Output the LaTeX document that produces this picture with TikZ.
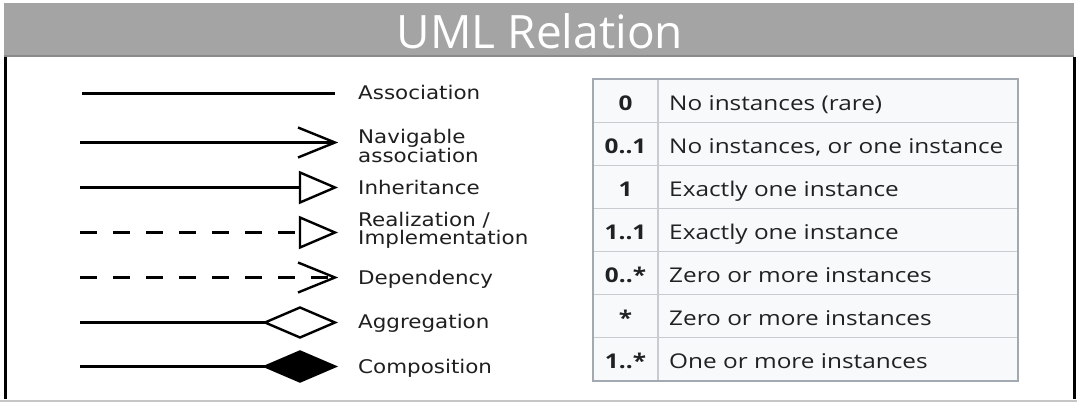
\documentclass[tikz,border=0pt]{standalone}
\usepackage{fontspec}
\setmainfont{DejaVu Sans}
\newfontfamily\lblfont[FakeStretch=1.14]{DejaVu Sans}
\newfontfamily\tblfont[FakeStretch=1.2]{Open Sans}
\newfontfamily\ttlfont{Open Sans}
\definecolor{hdrgray}{HTML}{A4A4A4}
\definecolor{hdrdark}{HTML}{8A8A8A}
\definecolor{tblbg}{HTML}{F8F9FA}
\definecolor{tblline}{HTML}{C8CCD1}
\definecolor{tblborder}{HTML}{A2A9B1}
\definecolor{txt}{HTML}{202122}
\definecolor{botline}{HTML}{C6C6C6}
\begin{document}
\begin{tikzpicture}[x=1pt,y=-1pt,
  rel/.style={line width=2.4pt, black},
  reldash/.style={rel, dash pattern=on 17pt off 16pt},
  headfill/.style={fill=white, draw=black, line width=2.4pt},
  lbl/.style={font=\lblfont\fontsize{18.8}{17.5}\selectfont, text=black!88, anchor=base west, inner sep=0pt},
  num/.style={font=\tblfont\bfseries\fontsize{20.3}{24}\selectfont, text=txt, anchor=base, inner sep=0pt},
  desc/.style={font=\tblfont\fontsize{20.3}{24}\selectfont, text=txt, anchor=base west, inner sep=0pt},
  ttl/.style={font=\ttlfont\fontsize{46}{50}\selectfont, text=white, anchor=base, inner sep=0pt}
]
\useasboundingbox (0,0) rectangle (1077,402);
\fill[white] (0,0) rectangle (1077,402);
% header
\fill[hdrgray] (4,3) rectangle (1074,57);
\draw[hdrdark, line width=2.5pt] (4,56) -- (1074,56);
\node[ttl] (title) at (540,48) {UML Relation};
% frame
\draw[line width=3pt] (5,57) -- (5,399);
\draw[line width=3pt] (1074.5,57) -- (1074.5,399);
\draw[botline, line width=2pt] (0,400.5) -- (1077,400.5);

% Association
\coordinate (a1) at (82,93.5); \coordinate (a2) at (335,93.5);
\draw[rel] (a1) -- (a2);
\node[lbl] (lAssoc) at (358,99.5) {Association};
% Navigable association
\coordinate (n1) at (80,142.5); \coordinate (n2) at (335,142.5);
\draw[rel] (n1) -- (n2);
\draw[rel] (n2) ++(-37,-15) -- (n2) -- ++(-37,15);
\node[lbl] (lNav) at (358,143) {\vtop{\hbox{Navigable}\hbox{association}}};
% Inheritance
\coordinate (i1) at (80,187.5); \coordinate (i2) at (300,187.5);
\draw[rel] (i1) -- (i2);
\draw[headfill] (i2) -- ++(0,-15) -- ++(35,15) -- ++(-35,15) -- cycle;
\node[lbl] (lInh) at (358,194) {Inheritance};
% Realization
\coordinate (r1) at (80,232.5); \coordinate (r2) at (300,232.5);
\draw[reldash] (r1) -- (r2);
\draw[headfill] (r2) -- ++(0,-15) -- ++(35,15) -- ++(-35,15) -- cycle;
\node[lbl] (lReal) at (358,226.5) {\vtop{\hbox{Realization /}\hbox{Implementation}}};
% Dependency
\coordinate (d1) at (80,277.5); \coordinate (d2) at (335,277.5);
\draw[reldash] (d1) -- (d2);
\draw[rel] (d2) ++(-37,-15) -- (d2) -- ++(-37,15);
\node[lbl] (lDep) at (358,284) {Dependency};
% Aggregation
\coordinate (g1) at (80,322.5); \coordinate (g2) at (265,322.5);
\draw[rel] (g1) -- (g2);
\draw[headfill] (g2) -- ++(35,-15) -- ++(35,15) -- ++(-35,15) -- cycle;
\node[lbl] (lAgg) at (358,328.5) {Aggregation};
% Composition
\coordinate (c1) at (80,366.5); \coordinate (c2) at (265,366.5);
\draw[rel] (c1) -- (c2);
\draw[rel, fill=black] (c2) -- ++(35,-15) -- ++(35,15) -- ++(-35,15) -- cycle;
\node[lbl] (lComp) at (358,373) {Composition};

% table
\fill[tblbg] (593,79) rectangle (1018,381);
\foreach \i in {1,...,6} {
  \draw[tblline, line width=1.2pt] (593,{79+43.143*\i}) -- (1018,{79+43.143*\i});
}
\draw[tblline, line width=1.2pt] (658,79) -- (658,381);
\draw[tblborder, line width=1.2pt] (593,79) rectangle (1018,381);
\foreach \n/\t [count=\i from 0] in {0/No instances (rare),0..1/{No instances, or one instance},1/Exactly one instance,1..1/Exactly one instance,0..*/Zero or more instances,*/Zero or more instances,1..*/One or more instances} {
  \node[num] (m\i) at (625.5,{79+43.143*(\i+0.5)+9.5}) {\n};
  \node[desc] (t\i) at (669,{79+43.143*(\i+0.5)+9.5}) {\t};
}
\end{tikzpicture}
\end{document}
